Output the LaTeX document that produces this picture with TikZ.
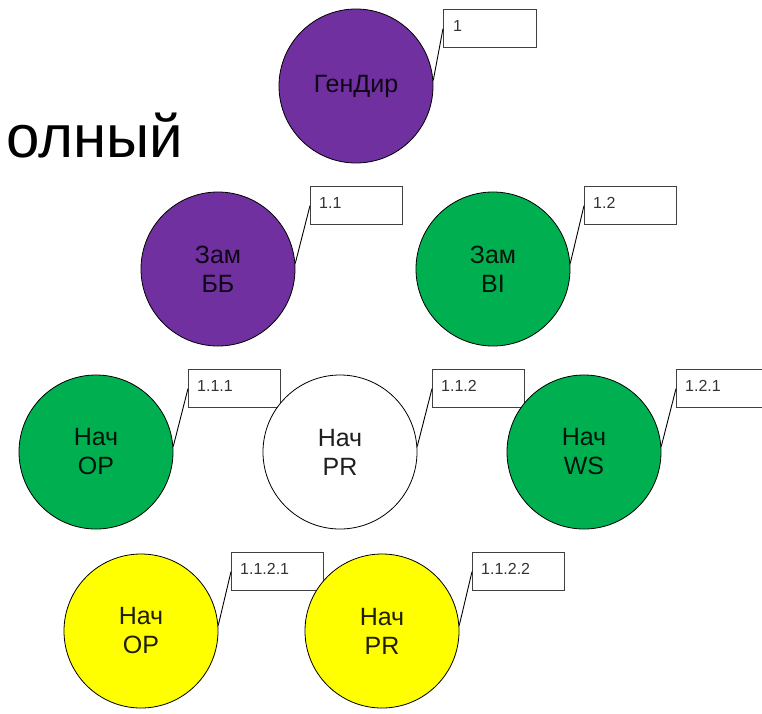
\documentclass[tikz,border=0pt]{standalone}
\usepackage{fontspec}
\setmainfont{Liberation Sans}
\usetikzlibrary{calc}
\definecolor{orgpurple}{HTML}{7030A0}
\definecolor{orggreen}{HTML}{00B050}
\definecolor{orgyellow}{HTML}{FFFF00}
\definecolor{boxline}{HTML}{404040}
\definecolor{boxtext}{HTML}{333333}
\begin{document}
\begin{tikzpicture}[x=1pt,y=-1pt,
  unit/.style={circle, draw=black, line width=0.8pt, minimum size=154pt,
    inner sep=0pt, align=center, text=black, text opacity=0.88,
    font=\fontsize{25}{29}\selectfont},
  codebox/.style={rectangle, draw=boxline, fill=white, line width=1.2pt,
    minimum width=92pt, minimum height=38pt, inner sep=0pt, anchor=north west},
  codetext/.style={anchor=west, inner sep=0pt, text=boxtext,
    font=\fontsize{16}{18}\selectfont},
  leader/.style={draw=black, line width=0.9pt}]
\useasboundingbox (0,0) rectangle (762,713);
\clip (0,0) rectangle (762,713);

% partial heading word at the left
\node[anchor=base west, inner sep=0pt, font=\fontsize{60}{66}\selectfont]
  (word) at (6,157) {олный};

% code boxes (drawn first so the circles overlap them)
\node[codebox, minimum width=93pt] (b1)   at (443,9)   {};
\node[codebox] (b11)  at (310,186) {};
\node[codebox] (b12)  at (584,186) {};
\node[codebox] (b111) at (188,369) {};
\node[codebox] (b112) at (432,369) {};
\node[codebox] (b121) at (676,369) {};
\node[codebox] (b1121) at (231,552) {};
\node[codebox] (b1122) at (472,552) {};

\node[codetext] (t1)    at ($(b1.north west)+(10,17)$)    {1};
\node[codetext] (t11)   at ($(b11.north west)+(9,17)$)    {1.1};
\node[codetext] (t12)   at ($(b12.north west)+(9,17)$)    {1.2};
\node[codetext] (t111)  at ($(b111.north west)+(9,17)$)   {1.1.1};
\node[codetext] (t112)  at ($(b112.north west)+(9,17)$)   {1.1.2};
\node[codetext] (t121)  at ($(b121.north west)+(9,17)$)   {1.2.1};
\node[codetext] (t1121) at ($(b1121.north west)+(9,17)$)  {1.1.2.1};
\node[codetext] (t1122) at ($(b1122.north west)+(9,17)$)  {1.1.2.2};

% organisation units
\node[unit, fill=orgpurple] (gd)  at (356,86)  {ГенДир};
\node[unit, fill=orgpurple] (zbb) at (218,269) {Зам\\ББ};
\node[unit, fill=orggreen]  (zbi) at (493,269) {Зам\\BI};
\node[unit, fill=orggreen]  (nop) at (96,452)  {Нач\\OP};
\node[unit, fill=white]     (npr) at (340,452) {Нач\\PR};
\node[unit, fill=orggreen]  (nws) at (584,452) {Нач\\WS};
\node[unit, fill=orgyellow] (yop) at (141,631) {Нач\\OP};
\node[unit, fill=orgyellow] (ypr) at (382,631) {Нач\\PR};

% leader lines from each box to its unit
\draw[leader] (b1.west)    -- (gd.4);
\draw[leader] (b11.west)   -- (zbb.4);
\draw[leader] (b12.west)   -- (zbi.4);
\draw[leader] (b111.west)  -- (nop.4);
\draw[leader] (b112.west)  -- (npr.4);
\draw[leader] (b121.west)  -- (nws.4);
\draw[leader] (b1121.west) -- (yop.4);
\draw[leader] (b1122.west) -- (ypr.4);
\end{tikzpicture}
\end{document}
